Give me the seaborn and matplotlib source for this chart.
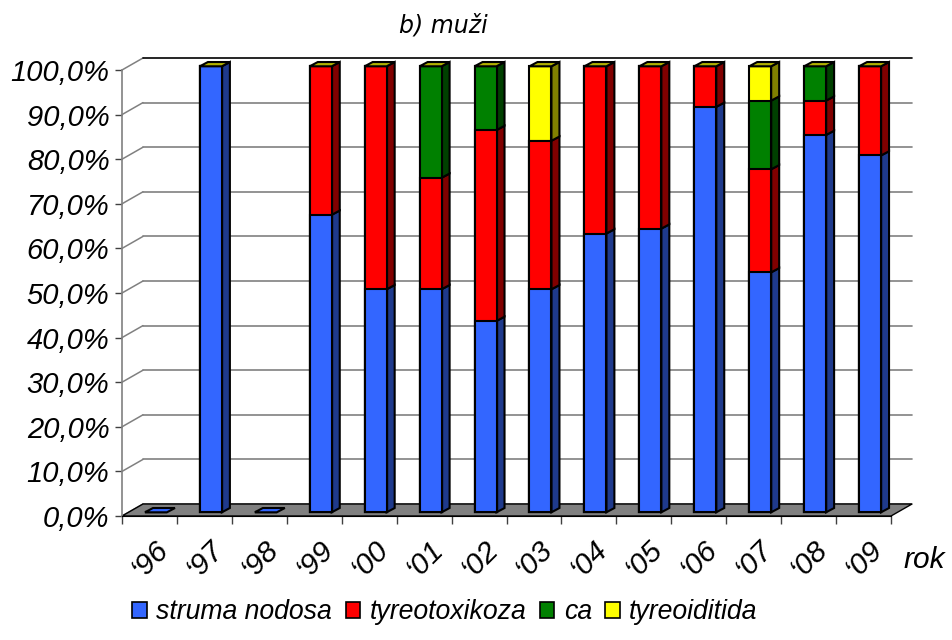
import numpy as np
import pandas as pd
import matplotlib
matplotlib.use("Agg")
import matplotlib.pyplot as plt
from matplotlib.patches import Patch, Polygon
import seaborn as sns

# ---- data: share of diagnoses per year (percent) ----
years = ["‘96", "‘97", "‘98", "‘99", "‘00", "‘01", "‘02", "‘03",
         "‘04", "‘05", "‘06", "‘07", "‘08", "‘09"]
series_names = ["struma nodosa", "tyreotoxikoza", "ca", "tyreoiditida"]
struma_nodosa = [0, 100, 0, 66.7, 50, 50, 42.9, 50, 62.5, 63.6, 90.9, 53.8, 84.6, 80]
tyreotoxikoza = [0, 0, 0, 33.3, 50, 25, 42.8, 33.3, 37.5, 36.4, 9.1, 23.1, 7.7, 20]
ca = [0, 0, 0, 0, 0, 25, 14.3, 0, 0, 0, 0, 15.4, 7.7, 0]
tyreoiditida = [0, 0, 0, 0, 0, 0, 0, 16.7, 0, 0, 0, 7.7, 0, 0]
y_ticks = list(range(0, 101, 10))

front_colors = ["#3366FF", "#FF0000", "#008000", "#FFFF00"]
side_colors = ["#1F3A8C", "#800000", "#004000", "#808000"]
top_color = "#B0B000"

# ---- oblique projection geometry (data units) ----
BAR_W = 0.40            # width of a bar's front face
BAR_DX, BAR_DY = 0.146, 0.96   # depth of a bar
OFF_X, OFF_Y = 0.118, 0.83     # bars sit in the middle of the floor
WALL_DX, WALL_DY = 0.382, 2.69  # full depth of the floor / walls
n = len(years)
x_left = -0.5 - OFF_X
x_right = n - 0.5 - OFF_X
y0 = -OFF_Y

sns.set_style("white")
plt.rcParams["font.family"] = ["Liberation Sans", "DejaVu Sans"]
plt.rcParams["text.color"] = "black"
plt.rcParams["xtick.color"] = "black"
plt.rcParams["ytick.color"] = "black"

fig = plt.figure(figsize=(9.53, 6.4), dpi=100)
ax = fig.add_axes([100 / 953, 100 / 640, 830 / 953, 495 / 640])

df = pd.DataFrame({"rok": years, "struma nodosa": struma_nodosa,
                   "tyreotoxikoza": tyreotoxikoza, "ca": ca,
                   "tyreoiditida": tyreoiditida})
cum = df[series_names].cumsum(axis=1)

# walls: oblique side-wall lines and back-wall gridlines
for v in y_ticks:
    yf = v + y0
    yb = yf + WALL_DY
    col = "black" if v == 100 else "#808080"
    ax.plot([x_left, x_left + WALL_DX], [yf, yb], color="#808080", lw=1.1, zorder=1)
    ax.plot([x_left + WALL_DX, x_right + WALL_DX], [yb, yb], color=col, lw=1.2, zorder=1)

# floor
floor = Polygon([(x_left, y0), (x_right, y0), (x_right + WALL_DX, y0 + WALL_DY),
                 (x_left + WALL_DX, y0 + WALL_DY)], closed=True,
                facecolor="#808080", edgecolor="black", lw=1.0, zorder=2)
ax.add_patch(floor)

# front faces: cumulative layers drawn from the top series down
for k in range(len(series_names) - 1, -1, -1):
    sns.barplot(data=cum.assign(rok=years), x="rok", y=series_names[k], order=years,
                color=front_colors[k], saturation=1, width=BAR_W,
                edgecolor="black", linewidth=1.5, ax=ax, zorder=4)

# side faces and top faces
for i in range(n):
    bottom = 0.0
    xr = i + BAR_W / 2
    xl = i - BAR_W / 2
    for k, name in enumerate(series_names):
        h = df.loc[i, name]
        if h > 0:
            top = bottom + h
            ax.add_patch(Polygon([(xr, bottom), (xr + BAR_DX, bottom + BAR_DY),
                                  (xr + BAR_DX, top + BAR_DY), (xr, top)], closed=True,
                                 facecolor=side_colors[k], edgecolor="black",
                                 lw=1.5, zorder=3))
            bottom = top
    tc = top_color if bottom > 0 else front_colors[0]
    ax.add_patch(Polygon([(xl, bottom), (xl + BAR_DX, bottom + BAR_DY),
                          (xr + BAR_DX, bottom + BAR_DY), (xr, bottom)], closed=True,
                         facecolor=tc, edgecolor="black", lw=1.5, zorder=5))

ax.set_xlim(-0.618 - 22 / 54.93, -0.618 + 808 / 54.93)
ax.set_ylim(-27.7 / 4.46, (512.3 - 45) / 4.46)

for s in ["top", "right"]:
    ax.spines[s].set_visible(False)
ax.spines["left"].set_position(("data", x_left))
ax.spines["left"].set_bounds(y0, 100 + y0)
ax.spines["left"].set_color("#808080")
ax.spines["left"].set_linewidth(1.2)
ax.spines["bottom"].set_position(("data", y0))
ax.spines["bottom"].set_bounds(x_left, x_right)
ax.spines["bottom"].set_color("black")

ax.set_yticks([v + y0 for v in y_ticks],
              labels=[f"{v:.1f}%".replace(".", ",") for v in y_ticks])
ax.set_xticks([i - OFF_X for i in range(n)], labels=years)
ax.set_xticks([x_left + k for k in range(n + 1)], minor=True)
ax.tick_params(axis="y", length=5, width=1, color="#404040", pad=4,
               labelsize=21, left=True)
ax.tick_params(axis="x", which="major", length=0, pad=14, labelsize=21.5,
               labelrotation=45)
ax.tick_params(axis="x", which="minor", length=6, width=1, color="#404040",
               bottom=True)
for lab in ax.get_xticklabels() + ax.get_yticklabels():
    lab.set_style("italic")
ax.set_xlabel("")
ax.set_ylabel("")
ax.set_facecolor("white")

fig.text(443 / 953, 1 - 25 / 640, "b) muži", ha="center", va="center",
         fontsize=17, style="italic", family=["DejaVu Sans"])
fig.text(924 / 953, 1 - 560 / 640, "rok", ha="center", va="center",
         fontsize=21.5, style="italic")

handles = [Patch(facecolor=c, edgecolor="black", lw=1.2) for c in front_colors]
leg = fig.legend(handles, series_names, loc="center",
                 bbox_to_anchor=(445 / 953, 1 - 612 / 640), ncol=4, frameon=False,
                 prop={"size": 19.2, "style": "italic"}, handlelength=0.55,
                 handleheight=0.55, handletextpad=0.35, columnspacing=0.5,
                 borderaxespad=0)

fig.savefig("out.png", dpi=100)
